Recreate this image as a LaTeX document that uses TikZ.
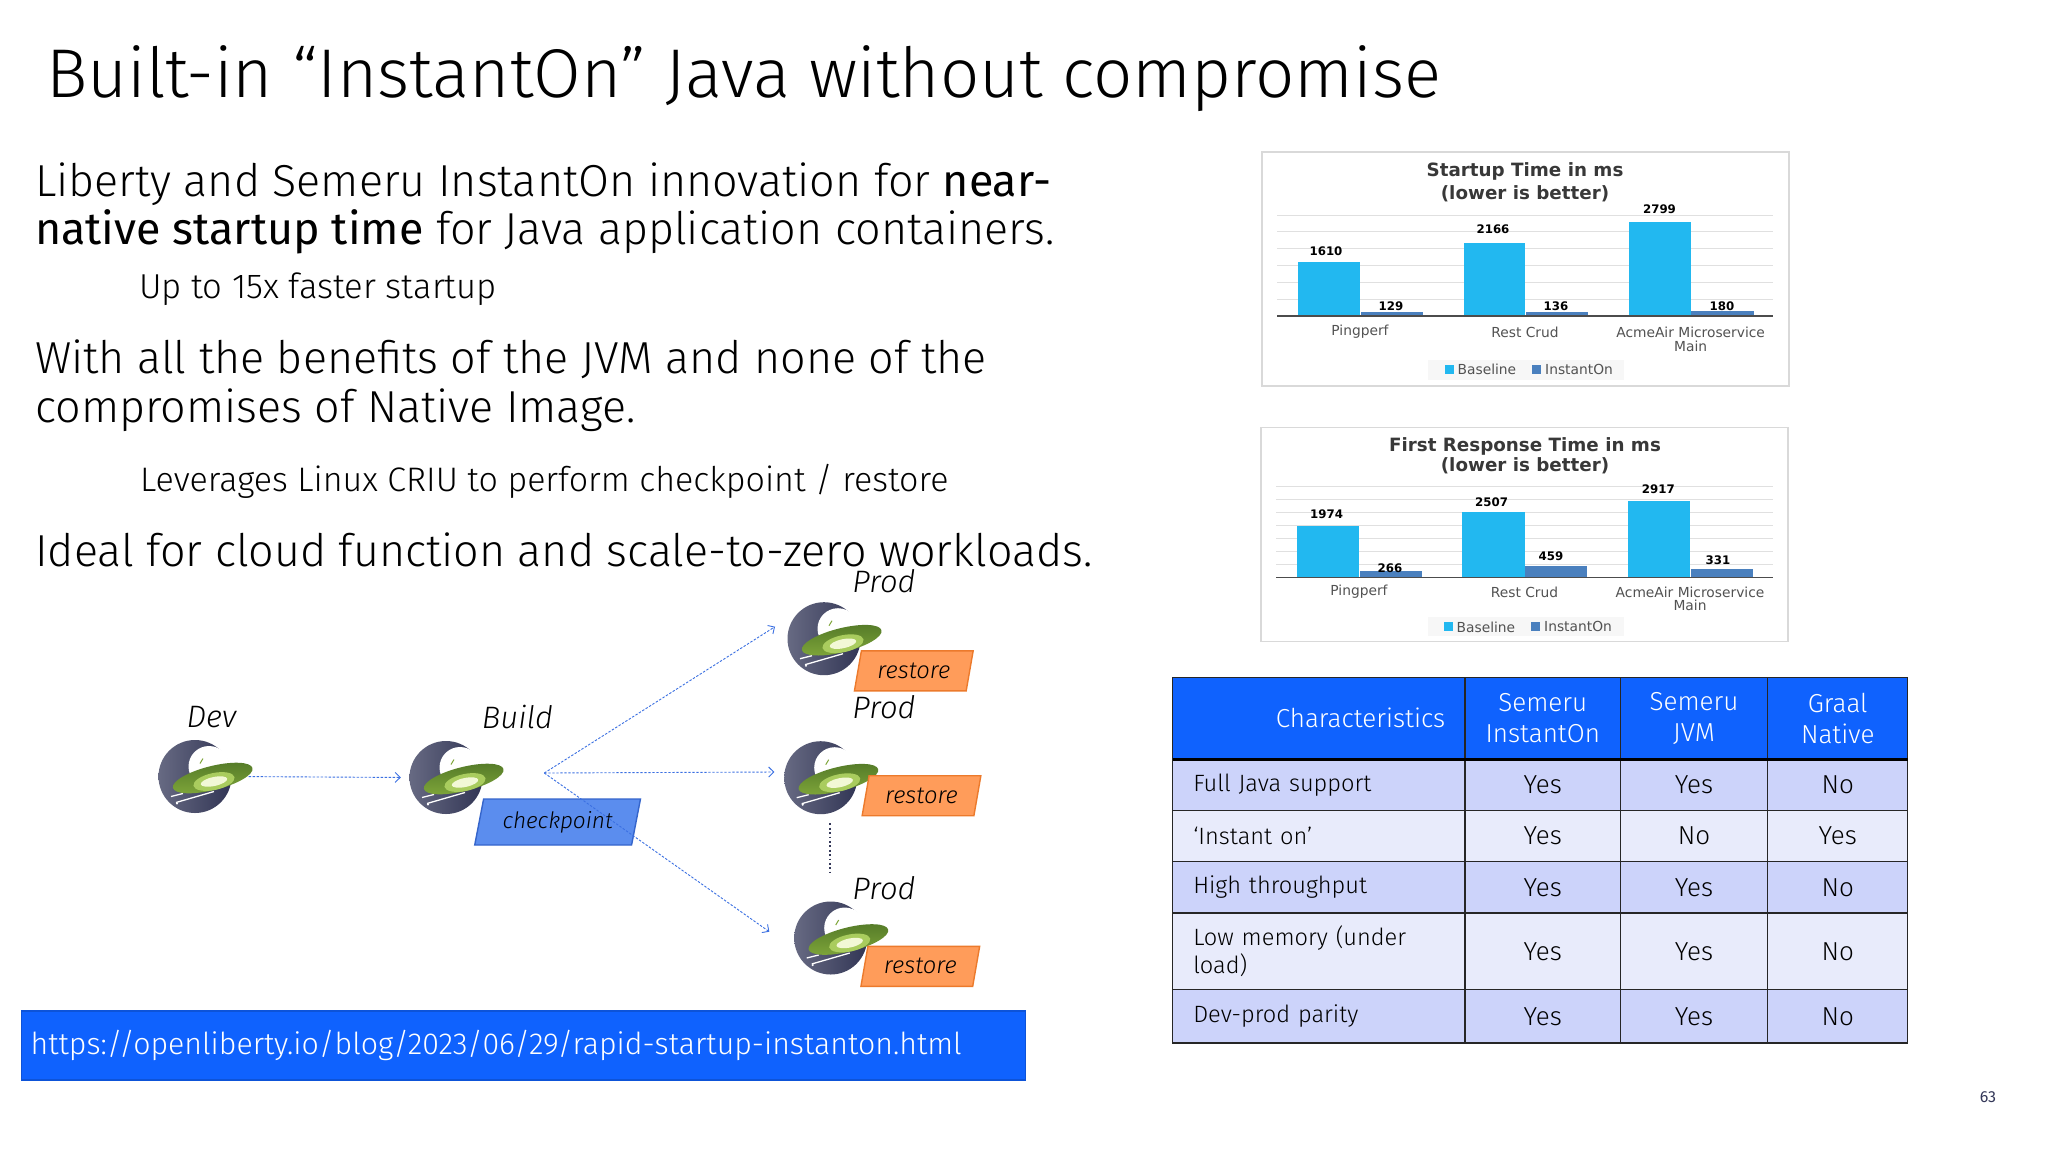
\documentclass[tikz,border=0pt]{standalone}
\usepackage{fontspec}
\setmainfont{Fira Sans}[UprightFont=* Light, ItalicFont=* Light Italic, BoldFont=* Regular]
\newfontfamily\chartfont{DejaVu Sans}
\usetikzlibrary{positioning,shapes.geometric,arrows.meta}
\definecolor{ibmblue}{HTML}{0F62FE}
\definecolor{rowdark}{HTML}{CCD3FA}
\definecolor{rowlight}{HTML}{E8EBFB}
\definecolor{barbase}{HTML}{22B8F0}
\definecolor{barinst}{HTML}{4A80BE}
\definecolor{navy}{HTML}{343859}
\definecolor{flowblue}{HTML}{3B70E2}
\definecolor{tagblue}{HTML}{5B8DEE}
\definecolor{tagorange}{HTML}{FF9C5A}
\definecolor{tagedge}{HTML}{EC7A2C}
\definecolor{saucertop}{HTML}{547A28}
\definecolor{saucerlow}{HTML}{7FA63A}
\definecolor{saucerglow}{HTML}{A9CC5E}
\definecolor{saucercore}{HTML}{F2F8D6}
\newcommand{\fs}[1]{\fontsize{#1}{#1}\selectfont}
\tikzset{
  slidetext/.style={anchor=west, inner sep=0pt, align=left},
  flow/.style={draw=flowblue, line width=0.9pt, dash pattern=on 2.4pt off 1.6pt, ->, >={Straight Barb[length=5pt,width=10pt]}},
  stagelabel/.style={inner sep=0pt, font=\fs{31}\itshape},
  tag/.style={trapezium, trapezium left angle=73, trapezium right angle=107, trapezium stretches=true, inner sep=0pt, line width=1.4pt},
  chartframe/.style={draw=black!15, line width=1.2pt, fill=white, inner sep=0pt},
  charttitle/.style={inner sep=0pt, text=black!78, font=\chartfont\bfseries\fs{18.3}},
  datalabel/.style={inner sep=0pt, font=\chartfont\bfseries\fs{11.8}},
  catlabel/.style={inner sep=0pt, text=black!68, font=\chartfont\fs{13.8}},
  cell/.style={draw=black!85, line width=1.2pt, inner sep=0pt, outer sep=0pt, align=center},
  ufo/.pic={
    \node[circle, minimum size=73pt, inner sep=0pt, left color=navy!75!white, right color=navy!95!black] (-disc) at (0,0) {};
    \fill[white] (14,-10) circle (20.5);
    \draw[saucerlow, line width=1pt] (5,-13) -- (8,-18);
    \draw[white, line width=1.3pt] (-19,26) -- (19,15);
    \draw[white, line width=1.3pt] (-24,20) -- (-12,17);
    \fill[white] (-18,27) circle (1.2);
    \node[ellipse, minimum width=82pt, minimum height=24pt, inner sep=0pt, rotate=14, top color=saucertop, bottom color=saucerlow] (-saucer) at (17.7,1.5) {};
    \node[ellipse, minimum width=42pt, minimum height=17pt, inner sep=0pt, rotate=12, fill=saucerglow] (-glow) at (19,5) {};
    \node[ellipse, minimum width=27pt, minimum height=9pt, inner sep=0pt, rotate=12, fill=saucercore] (-core) at (19,5) {};
  }
}
\begin{document}
\begin{tikzpicture}[x=1pt, y=-1pt]
  \useasboundingbox (0,0) rectangle (2048,1152);
  \fill[white] (0,0) rectangle (2048,1152);
  % slide text
  \node[slidetext, font=\fs{69}] (title) at (46,79) {Built-in “InstantOn” Java without compromise};
  \node[slidetext, font=\fs{44.8}] (near) at (35,184) {Liberty and Semeru InstantOn innovation for \textbf{near-}};
  \node[slidetext, font=\fs{44.8}] (native) at (35,232) {\textbf{native startup time} for Java application containers.};
  \node[slidetext, font=\fs{34.6}] (faster) at (139,289) {Up to 15x faster startup};
  \node[slidetext, font=\fs{44.8}] (benefits) at (35,359) {With all the benefits of the JVM and none of the};
  \node[slidetext, font=\fs{44.8}] (compromises) at (35,410) {compromises of Native Image.};
  \node[slidetext, font=\fs{34}] (criu) at (140,481) {Leverages Linux CRIU to perform checkpoint / restore};
  \node[slidetext, font=\fs{44.8}] (ideal) at (35,550) {Ideal for cloud function and scale-to-zero workloads.};
  % flow
  \node[stagelabel] (devlabel) at (211.5,717) {Dev};
  \node[stagelabel] (buildlabel) at (517.5,717) {Build};
  \node[stagelabel] (prodlabela) at (884,581) {Prod};
  \node[stagelabel] (prodlabelb) at (884,707) {Prod};
  \node[stagelabel] (prodlabelc) at (884,888) {Prod};
  \pic (dev) at (195,776.5) {ufo};
  \pic (build) at (446,777.5) {ufo};
  \pic (proda) at (824,638.7) {ufo};
  \pic (prodb) at (820.7,777.7) {ufo};
  \pic (prodc) at (830.7,938) {ufo};
  \node[tag, draw=flowblue!90!black, fill=tagblue, minimum width=166pt, minimum height=46pt, font=\fs{22.6}\itshape] (checkpoint) at (557.6,822) {checkpoint};
  \foreach \tname/\tx/\ty in {a/913.8/670.8, b/921.5/795.7, c/920.3/966.3}
    \node[tag, draw=tagedge, fill=tagorange, minimum width=119pt, minimum height=40pt, font=\fs{23.8}\itshape] (restore\tname) at (\tx,\ty) {restore};
  \coordinate (fan) at (544.3,773);
  \coordinate (inproda) at (775,626.7);
  \coordinate (inprodb) at (774.3,772);
  \coordinate (inprodc) at (769.3,931.7);
  \coordinate (dotstop) at (830.3,823.3);
  \coordinate (dotsbot) at (830.3,873.3);
  \draw[flow, shorten <=17pt, shorten >=8.5pt] (dev-disc.east) -- (build-disc.west);
  \draw[flow] (fan) -- (inproda);
  \draw[flow] (fan) -- (inprodb);
  \draw[flow] (fan) -- (inprodc);
  \draw[navy, line width=2pt, dash pattern=on 1.8pt off 2.6pt] (dotstop) -- (dotsbot);
  % url
  \node[draw=ibmblue!85!black, line width=1.2pt, fill=ibmblue, text=white, anchor=west, inner sep=0pt, text width=1004pt, minimum height=69pt, font=\fs{30.3}] (url) at (21,1045.5) {\hspace{9pt}https://openliberty.io/blog/2023/06/29/rapid-startup-instanton.html};
  % startup chart
  \node[chartframe, minimum width=527pt, minimum height=234pt] (startup) at (1525.5,269) {};
  \node[charttitle] (startupa) at (1525,171.7) {Startup Time in ms};
  \node[charttitle] (startupb) at (1525,193.7) {(lower is better)};
  \foreach \gy in {215,231.7,248.3,265.7,282.3,299.3}
    \draw[black!12, line width=0.8pt] (1277,\gy) -- (1773,\gy);
  \foreach \bl/\br/\bt in {1298/1360/262.3, 1463.5/1525/243.3, 1629/1690.6/221.7}
    \fill[barbase] (\bl,\bt) rectangle (\br,316);
  \foreach \bl/\br/\bt in {1360.6/1422.8/312.3, 1526/1588/312.3, 1691/1753.5/310.7}
    \fill[barinst] (\bl,\bt) rectangle (\br,316);
  \draw[black!70, line width=1.3pt] (1277,316) -- (1773,316);
  \foreach \lx/\ly/\val in {1326/251/1610, 1391/305.7/129, 1493/229/2166, 1556/305.7/136, 1659.5/208.7/2799, 1722/305.7/180}
    \node[datalabel] (startup\val) at (\lx,\ly) {\val};
  \node[catlabel] (catpinga) at (1360,332) {Pingperf};
  \node[catlabel] (catresta) at (1525,332) {Rest Crud};
  \node[catlabel] (catacmea) at (1690.6,332) {AcmeAir Microservice};
  \node[catlabel] (catmaina) at (1690.6,346.3) {Main};
  \fill[black!3] (1428,360) rectangle (1624,380);
  \fill[barbase] (1444.5,365) rectangle (1453.5,374);
  \fill[barinst] (1531.5,365) rectangle (1540.5,374);
  \node[catlabel, anchor=west] (legbasea) at (1457.5,369.5) {Baseline};
  \node[catlabel, anchor=west] (leginsta) at (1545,369.5) {InstantOn};
  % first response chart
  \node[chartframe, minimum width=527pt, minimum height=213.6pt] (response) at (1524.5,534.5) {};
  \node[charttitle] (responsea) at (1525,446) {First Response Time in ms};
  \node[charttitle] (responseb) at (1525,465.5) {(lower is better)};
  \foreach \gy in {486,499.3,512.3,525.3,538.3,551.3,564.3}
    \draw[black!12, line width=0.8pt] (1276,\gy) -- (1773,\gy);
  \foreach \bl/\br/\bt in {1297.3/1359/526.3, 1462.3/1524.5/512, 1628/1690/501.3}
    \fill[barbase] (\bl,\bt) rectangle (\br,577.7);
  \foreach \bl/\br/\bt in {1359.5/1421.6/571, 1525/1587/566, 1690.6/1752.8/569.3}
    \fill[barinst] (\bl,\bt) rectangle (\br,577.7);
  \draw[black!70, line width=1.3pt] (1276,577.7) -- (1773,577.7);
  \foreach \lx/\ly/\val in {1326.6/514/1974, 1390/568/266, 1491.6/501.7/2507, 1551/556/459, 1658.4/489/2917, 1718/559.7/331}
    \node[datalabel] (response\val) at (\lx,\ly) {\val};
  \node[catlabel] (catpingb) at (1359,592) {Pingperf};
  \node[catlabel] (catrestb) at (1524.5,592) {Rest Crud};
  \node[catlabel] (catacmeb) at (1690,592) {AcmeAir Microservice};
  \node[catlabel] (catmainb) at (1690,605.3) {Main};
  \fill[black!3] (1428,616.7) rectangle (1624,636);
  \fill[barbase] (1443.5,622) rectangle (1452.5,631);
  \fill[barinst] (1530.5,622) rectangle (1539.5,631);
  \node[catlabel, anchor=west] (legbaseb) at (1456.5,626.9) {Baseline};
  \node[catlabel, anchor=west] (leginstb) at (1544,626.9) {InstantOn};
  % table
  \tikzstyle{coldata} = [cell, minimum height=\rh pt, font=\fontsize{26}{28}\selectfont]
  \tikzstyle{collabel} = [cell, minimum height=\rh pt, font=\fontsize{23.6}{28}\selectfont]
  \foreach \rn/\ry/\rh/\rfill/\rlabel/\va/\vb/\vc in {
    a/785/51/rowdark/Full Java support/Yes/Yes/No,
    b/836/51.4/rowlight/‘Instant on’/Yes/No/Yes,
    c/887.3/51.3/rowdark/High throughput/Yes/Yes/No,
    d/951.3/76.7/rowlight/{Low memory (under\\load)}/Yes/Yes/No,
    e/1016.4/53.3/rowdark/Dev-prod parity/Yes/Yes/No}{
    \node[collabel, fill=\rfill, minimum width=292.5pt, text width=251pt, align=left] (\rn label) at (1318.75,\ry) {\rlabel};
    \node[coldata, fill=\rfill, minimum width=155.4pt] (\rn semi) at (1542.7,\ry) {\va};
    \node[coldata, fill=\rfill, minimum width=147.3pt] (\rn jvm) at (1694,\ry) {\vb};
    \node[coldata, fill=\rfill, minimum width=140pt] (\rn graal) at (1837.7,\ry) {\vc};
  }
  \foreach \hname/\hx/\hw/\htext in {semi/1542.7/155.4/{Semeru\\InstantOn}, jvm/1694/147.3/{Semeru\\JVM}, graal/1837.7/140/{Graal\\Native}}
    \node[cell, fill=ibmblue, text=white, minimum width=\hw pt, minimum height=82pt, font=\fontsize{26}{31}\selectfont] (head\hname) at (\hx,718.3) {\htext};
  \node[cell, fill=ibmblue, text=white, minimum width=292.5pt, minimum height=82pt, text width=253pt, align=right, font=\fs{26}] (headchar) at (1318.75,718.3) {Characteristics};
  \draw[black, line width=3pt] (headchar.south west) -- (headgraal.south east);
  % page number
  \node[inner sep=0pt, text=navy, font=\fs{16}\bfseries] (pagenum) at (1988,1097) {63};
\end{tikzpicture}
\end{document}
